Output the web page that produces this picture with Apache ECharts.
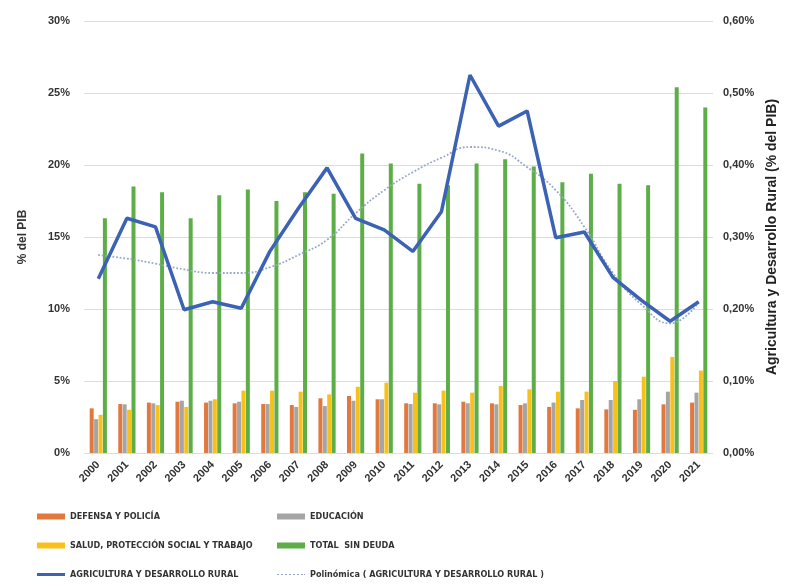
<!DOCTYPE html>
<html>
<head>
<meta charset="utf-8">
<script src="https://cdn.jsdelivr.net/npm/echarts@6/dist/echarts.min.js"></script>
<style>
  html, body { margin: 0; padding: 0; background: #fff; }
  #chart { width: 799px; height: 588px; }
</style>
</head>
<body>
<div id="chart"></div>
<script>
// años
const years = ['2000','2001','2002','2003','2004','2005','2006','2007','2008','2009','2010',
  '2011','2012','2013','2014','2015','2016','2017','2018','2019','2020','2021'];

// % del PIB (eje izquierdo)
const defensa = [3.1,3.4,3.5,3.56,3.5,3.45,3.4,3.33,3.8,3.96,3.73,3.45,3.45,3.56,3.45,3.33,3.2,3.1,3.03,3.0,3.38,3.5];
const educacion = [2.35,3.38,3.45,3.63,3.63,3.56,3.4,3.2,3.26,3.63,3.73,3.4,3.38,3.45,3.38,3.45,3.5,3.68,3.68,3.73,4.26,4.19];
const salud = [2.65,3.0,3.33,3.2,3.73,4.33,4.33,4.26,4.07,4.6,4.88,4.19,4.33,4.19,4.65,4.42,4.26,4.26,5.0,5.3,6.67,5.72];
const totalSinDeuda = [16.3,18.5,18.1,16.3,17.9,18.3,17.5,18.1,18.0,20.8,20.1,18.7,18.6,20.1,20.4,19.9,18.8,19.4,18.7,18.6,25.4,24.0];

// % del PIB (eje derecho)
const agricultura = [0.242,0.326,0.314,0.199,0.21,0.201,0.28,0.34,0.396,0.326,0.31,0.28,0.335,0.525,0.454,0.475,0.299,0.307,0.244,0.212,0.183,0.21];
const polinomica = [0.275,0.27,0.263,0.255,0.25,0.25,0.258,0.275,0.296,0.333,0.365,0.39,0.41,0.425,0.42,0.397,0.365,0.314,0.25,0.206,0.18,0.21];

const names = {
  def: 'DEFENSA Y POLICÍA',
  edu: 'EDUCACIÓN',
  sal: 'SALUD, PROTECCIÓN SOCIAL Y TRABAJO',
  tot: 'TOTAL  SIN DEUDA',
  agr: 'AGRICULTURA Y DESARROLLO RURAL',
  pol: 'Polinómica ( AGRICULTURA Y DESARROLLO RURAL )'
};

// iconos de leyenda para las líneas
const solidIcon = 'path://M0,0h28v3h-28z';
const dotIcon = 'path://M0,0h2v1h-2zM4,0h2v1h-2zM8,0h2v1h-2zM12,0h2v1h-2zM16,0h2v1h-2zM20,0h2v1h-2zM24,0h2v1h-2zM27,0h1v1h-1z';

const chart = echarts.init(document.getElementById('chart'));

const labelFont = { fontFamily: 'Liberation Sans', fontWeight: 'bold', fontSize: 11, color: '#333' };
const legendText = { fontFamily: '"DejaVu Sans Condensed", "Liberation Sans"', fontWeight: 'bold', fontSize: 9, color: '#333' };

const barBase = { type: 'bar', barWidth: 4, barGap: '10%', barCategoryGap: '30%' };

chart.setOption({
  animation: false,
  grid: { left: 84, right: 86, top: 21, bottom: 135 },
  legend: [
    {
      orient: 'vertical', left: 32, top: 507, itemWidth: 28, itemHeight: 6, itemGap: 20,
      textStyle: legendText,
      data: [
        { name: names.def, icon: 'rect' },
        { name: names.sal, icon: 'rect' },
        { name: names.agr, icon: solidIcon }
      ]
    },
    {
      orient: 'vertical', left: 272, top: 507, itemWidth: 28, itemHeight: 6, itemGap: 20,
      textStyle: legendText,
      data: [
        { name: names.edu, icon: 'rect' },
        { name: names.tot, icon: 'rect' },
        { name: names.pol, icon: dotIcon }
      ]
    }
  ],
  xAxis: {
    type: 'category',
    data: years,
    axisLine: { show: false },
    axisTick: { show: false },
    axisLabel: Object.assign({ rotate: 45, margin: 10, interval: 0 }, labelFont)
  },
  yAxis: [
    {
      type: 'value', min: 0, max: 30, interval: 5,
      name: '% del PIB', nameLocation: 'middle', nameRotate: 90, nameGap: 55,
      nameTextStyle: Object.assign({}, labelFont, { fontSize: 12 }),
      axisLabel: Object.assign({ formatter: '{value}%', margin: 14 }, labelFont),
      splitLine: { lineStyle: { color: '#dcdcdc' } },
      axisLine: { show: false }, axisTick: { show: false }
    },
    {
      type: 'value', min: 0, max: 0.6, interval: 0.1,
      name: 'Agricultura y Desarrollo Rural (% del PIB)', nameLocation: 'middle', nameRotate: 90, nameGap: 37,
      nameTextStyle: { fontFamily: 'Liberation Sans', fontWeight: 'bold', fontSize: 14, color: '#222' },
      axisLabel: Object.assign({
        formatter: (v) => v.toFixed(2).replace('.', ',') + '%', margin: 10
      }, labelFont),
      splitLine: { show: false },
      axisLine: { show: false }, axisTick: { show: false }
    }
  ],
  series: [
    Object.assign({ name: names.def, data: defensa, itemStyle: { color: '#E2783D' } }, barBase),
    Object.assign({ name: names.edu, data: educacion, itemStyle: { color: '#A5A5A5' } }, barBase),
    Object.assign({ name: names.sal, data: salud, itemStyle: { color: '#F9C01A' } }, barBase),
    Object.assign({ name: names.tot, data: totalSinDeuda, itemStyle: { color: '#5DAE48' } }, barBase),
    {
      name: names.agr, type: 'line', yAxisIndex: 1, data: agricultura,
      symbol: 'none', z: 5,
      lineStyle: { color: '#3C62B4', width: 3.5 },
      itemStyle: { color: '#3C62B4' }
    },
    {
      name: names.pol, type: 'line', yAxisIndex: 1, data: polinomica,
      symbol: 'none', smooth: true, z: 4,
      lineStyle: { color: '#97A8C8', width: 1.8, type: 'dotted' },
      itemStyle: { color: '#97A8C8' }
    }
  ]
});
</script>
</body>
</html>
